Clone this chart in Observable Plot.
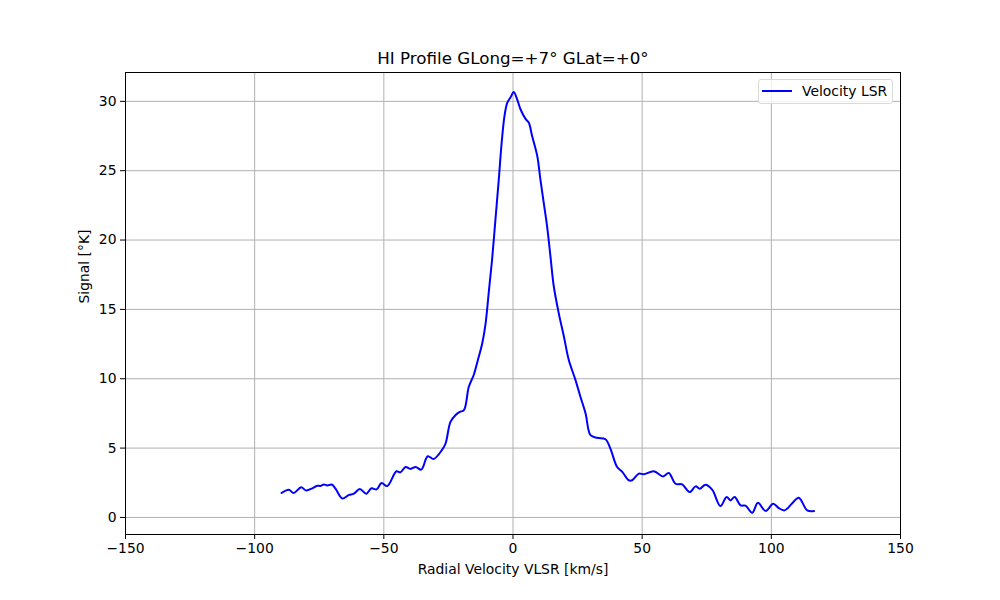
<!DOCTYPE html>
<html>
<head>
<meta charset="utf-8">
<script src="https://cdn.jsdelivr.net/npm/d3@7"></script>
<script src="https://cdn.jsdelivr.net/npm/@observablehq/plot@0.6"></script>
<style>
  html, body { margin: 0; padding: 0; background: #fff; }
  #wrap { position: relative; width: 1000px; height: 600px; font-family: "DejaVu Sans", sans-serif; }
  #legend { position: absolute; left: 758px; top: 79px; width: 135px; height: 25px;
    border: 1px solid #d9d9d9; border-radius: 3px; background: rgba(255,255,255,0.8);
    font-size: 13.9px; box-sizing: border-box; }
  #legend svg { position: absolute; left: 3px; top: 5px; }
  #legend span { position: absolute; left: 43px; top: 3px; color: #000; }
</style>
</head>
<body>
<div id="wrap"><div id="chart"></div>
<div id="legend"><svg width="32" height="12"><line x1="0" y1="6" x2="30" y2="6" stroke="blue" stroke-width="2"/></svg><span>Velocity LSR</span></div>
</div>
<script>
const velocity = [-89.6,-86.8,-84.9,-82.0,-80.1,-77.7,-75.8,-74.5,-73.2,-71.9,-70.0,-68.7,-66.1,-63.6,-61.6,-59.3,-56.8,-54.8,-52.8,-50.9,-48.7,-45.1,-43.6,-41.6,-39.7,-37.7,-35.5,-33.0,-30.7,-27.4,-26.1,-24.2,-22.3,-20.6,-19.0,-17.1,-15.2,-13.6,-11.9,-10.6,-9.4,-8.1,-6.8,-5.5,-4.5,-3.3,-2.2,-1.0,0.3,1.6,2.9,4.8,6.1,7.4,9.4,10.6,11.9,13.2,14.5,15.8,17.7,19.7,21.6,24.2,26.1,28.1,30.0,32.6,35.8,37.7,40.3,42.3,44.8,46.1,48.7,50.6,54.5,58.1,60.3,62.9,65.5,68.4,70.7,72.3,74.5,77.1,80.3,82.7,84.2,85.8,88.1,90.0,92.6,94.8,97.8,100.7,102.9,105.1,108.1,110.6,113.9,116.5];
const signal = [1.76,2.0,1.76,2.17,1.95,2.1,2.29,2.27,2.38,2.31,2.36,2.07,1.37,1.61,1.71,2.05,1.71,2.1,2.02,2.48,2.26,3.33,3.25,3.64,3.5,3.64,3.45,4.41,4.22,4.89,5.33,6.89,7.37,7.61,7.73,9.42,10.27,11.35,12.56,14.0,16.2,18.58,21.47,24.37,26.78,28.94,29.9,30.27,30.68,30.15,29.43,28.75,28.47,27.5,26.05,24.37,22.68,20.99,18.82,16.65,14.73,13.04,11.35,9.9,8.7,7.5,5.93,5.74,5.64,4.96,3.64,3.28,2.68,2.68,3.16,3.11,3.33,2.96,3.2,2.43,2.38,1.83,2.24,2.07,2.36,2.0,0.82,1.47,1.23,1.47,0.87,0.85,0.34,1.06,0.46,0.99,0.67,0.51,1.03,1.42,0.51,0.46];
const xTicks = [-150,-100,-50,0,50,100,150];
const yTicks = [0,5,10,15,20,25,30];
const title = "HI Profile GLong=+7° GLat=+0°";
const xLabel = "Radial Velocity VLSR [km/s]";
const yLabel = "Signal [°K]";

const data = velocity.map((v, i) => ({v, s: signal[i]}));

const chart = Plot.plot({
  width: 1000,
  height: 600,
  marginLeft: 125,
  marginRight: 100,
  marginTop: 72,
  marginBottom: 66,
  style: {fontFamily: "DejaVu Sans, sans-serif", fontSize: "13.9px", color: "#000", background: "#fff"},
  x: {domain: [-150, 150], ticks: xTicks, label: null},
  y: {domain: [-1.23, 32.08], ticks: yTicks, label: null},
  marks: [
    Plot.gridX(xTicks, {stroke: "#b0b0b0", strokeOpacity: 1, strokeWidth: 1}),
    Plot.gridY(yTicks, {stroke: "#b0b0b0", strokeOpacity: 1, strokeWidth: 1}),
    Plot.line(data, {x: "v", y: "s", stroke: "blue", strokeWidth: 2, curve: "catmull-rom"}),
    Plot.frame({stroke: "#000", strokeWidth: 1}),
    Plot.axisX(xTicks, {tickSize: 5, tickPadding: 4, fontSize: 13.9, tickFormat: d => d < 0 ? "\u2212" + Math.abs(d) : String(d)}),
    Plot.axisY(yTicks, {tickSize: 5, tickPadding: 4, fontSize: 13.9}),
    Plot.text([title], {frameAnchor: "top", dy: -14, fontSize: 16.7, text: d => d, lineAnchor: "middle"}),
    Plot.text([xLabel], {frameAnchor: "bottom", dy: 35, fontSize: 13.9, text: d => d, lineAnchor: "middle"}),
    Plot.text([yLabel], {frameAnchor: "left", dx: -41, rotate: -90, fontSize: 13.9, text: d => d, lineAnchor: "middle"})
  ]
});
document.getElementById("chart").appendChild(chart);
</script>
</body>
</html>
